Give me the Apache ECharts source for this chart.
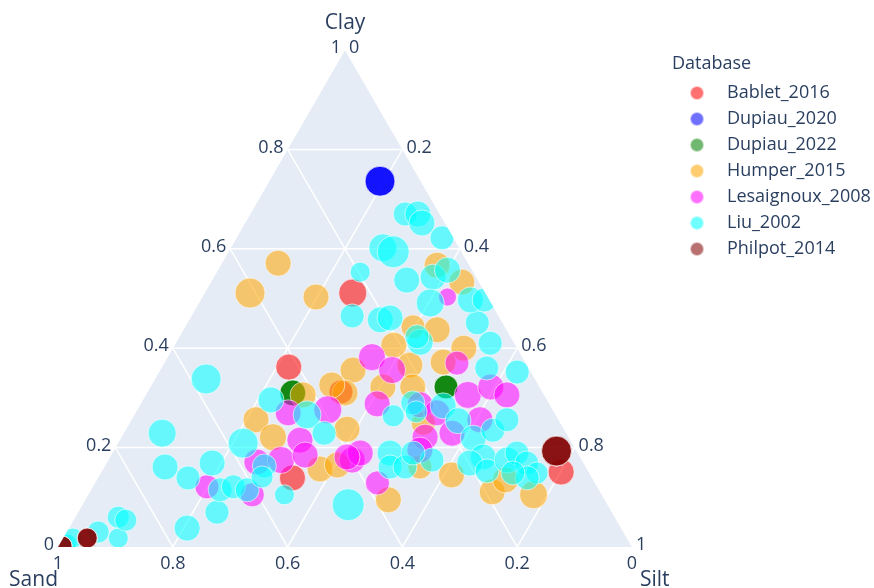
<!DOCTYPE html>
<html><head><meta charset="utf-8">
<script src="https://cdn.jsdelivr.net/npm/echarts@6/dist/echarts.min.js"></script>
<style>html,body{margin:0;padding:0;background:#fff}#c{width:874px;height:588px}</style>
</head><body><div id="c"></div>
<script>
// ---- data: each point is [clay %, silt %]; sand % = 100 - clay - silt ----
const seriesNames = ['Bablet_2016','Dupiau_2020','Dupiau_2022','Humper_2015','Lesaignoux_2008','Liu_2002','Philpot_2014'];

const bablet2016 = [[51.1,25.8],[36.2,22.1],[31.2,33.7],[13.9,33.9],[15.1,80.1]];
const bablet2016Size = [28,26,24,26,26];

const dupiau2020 = [[73.6,19.3],[73.6,19.3],[73.6,19.3]];
const dupiau2020Size = [30,30,30];

const dupiau2022 = [[31.0,25.4],[31.0,25.4],[31.0,25.4],[32.2,51.5],[32.2,51.5],[32.2,51.5]];
const dupiau2022Size = [26,26,26,24,24,24];

const humper2015 = [[57.1,9.8],[51.1,7.9],[50.3,19.8],[56.7,37.7],[53.3,43.7],[44.3,39.7],[43.7,44.2],[40.6,38.2],
  [40.0,50.7],[35.6,33.6],[36.6,43.0],[37.2,48.5],[32.2,45.7],[32.2,40.5],[31.0,34.5],[32.6,31.4],[30.6,27.4],
  [25.6,21.7],[22.1,26.4],[23.7,38.5],[15.7,37.8],[16.5,40.4],[9.5,52.8],[24.9,51.2],[16.1,55.0],[14.5,61.3],
  [11.1,70.1],[13.5,71.2],[10.5,77.6]];
const humper2015Size = [26,30,26,26,26,24,26,26,26,26,26,26,26,26,26,26,26,26,27,26,26,26,26,24,24,26,26,26,28];

const lesaignoux2008 = [[12.1,19.9],[10.5,28.6],[17.1,26.1],[17.5,30.1],[27.0,26.6],[21.5,31.4],[18.5,33.8],[27.6,33.2],
  [17.5,42.5],[18.9,43.2],[12.9,49.2],[38.2,35.6],[35.6,40.4],[28.8,41.2],[28.6,48.8],[27.0,52.5],[37.0,51.0],
  [30.6,56.1],[32.2,59.3],[30.6,62.9],[22.9,57.2],[25.6,60.7],[22.1,52.9],[19.5,53.3],[18.1,41.3],[50.3,42.7]];
const lesaignoux2008Size = [24,24,26,27,26,26,26,28,26,26,24,27,27,26,26,26,24,27,26,26,26,26,26,26,26,18];

const liu2002 = [[0.8,1.3],[1.8,1.7],[3.0,5.5],[1.8,9.6],[6.0,7.5],[5.4,9.1],[3.8,20.6],[7.0,24.2],[16.1,10.6],
  [22.9,6.7],[13.9,15.7],[16.9,18.4],[33.8,8.9],[11.5,22.5],[12.1,24.5],[11.5,27.2],[20.9,21.8],[29.6,22.3],
  [16.3,27.8],[14.1,28.5],[10.5,34.2],[26.6,30.1],[22.9,34.9],[8.5,46.3],[18.9,48.4],[16.1,49.8],[26.4,45.2],
  [29.0,47.3],[16.1,52.4],[17.5,56.4],[28.4,52.9],[27.2,48.8],[25.4,57.0],[21.9,61.4],[18.1,65.0],[16.9,63.3],
  [15.3,67.1],[17.5,69.5],[18.9,70.5],[16.9,73.2],[14.9,76.0],[13.9,74.8],[14.9,71.8],[23.5,64.0],[25.6,65.4],
  [41.0,54.8],[36.0,56.7],[35.2,62.4],[45.1,50.5],[41.2,42.5],[46.5,28.0],[45.7,33.3],[46.1,34.8],[55.3,25.0],
  [60.2,26.5],[59.4,28.7],[67.0,27.0],[67.0,29.2],[65.2,30.8],[62.2,35.8],[53.7,33.9],[54.3,38.2],[55.7,40.0],
  [49.1,40.3],[49.7,47.0],[49.7,49.4],[42.3,41.4],[18.9,52.4]];
const liu2002Size = [18,20,22,20,22,22,26,24,26,28,24,26,30,24,24,24,30,26,24,22,20,28,24,32,26,24,22,
  24,24,24,26,22,26,26,26,26,24,26,24,24,22,24,24,24,24,24,24,24,24,26,24,26,26,20,28,32,24,26,26,24,26,
  26,26,28,26,24,24,24];

const philpot2014 = [[19.3,77.2],[19.3,77.2],[19.3,77.2],[1.8,4.2],[1.8,4.2],[1.8,4.2],[0.2,0.6],[0.2,0.6],[0.2,0.6]];
const philpot2014Size = [30,30,30,20,20,20,20,20,20];

const tickValues = [0, 0.2, 0.4, 0.6, 0.8, 1];
const tickLabels = ['0','0.2','0.4','0.6','0.8','1'];
const gridValues = [0.2, 0.4, 0.6, 0.8];
const axisTitles = ['Clay','Sand','Silt'];
const legendTitle = 'Database';

// ---- styling ----
const colors = ['rgba(255,0,0,0.7)','rgba(0,0,255,0.7)','rgba(0,128,0,0.7)','rgba(255,165,0,0.7)',
  'rgba(255,0,255,0.7)','rgba(0,255,255,0.7)','rgba(128,0,0,0.7)'];
const allPts = [bablet2016,dupiau2020,dupiau2022,humper2015,lesaignoux2008,liu2002,philpot2014];
const allSizes = [bablet2016Size,dupiau2020Size,dupiau2022Size,humper2015Size,lesaignoux2008Size,liu2002Size,philpot2014Size];
const TXT = '#2a3f5f';
const FONT = '"Open Sans", Verdana, Arial, sans-serif';
const SQ = Math.sqrt(3) / 2;
// ternary (clay, silt fractions) -> cartesian
function tern(clay, silt) { return [silt + clay / 2, clay * SQ]; }

const chart = echarts.init(document.getElementById('c'), null, {renderer: 'canvas'});

const scatterSeries = seriesNames.map((name, i) => ({
  type: 'scatter', name, z: 2, clip: false, animation: false,
  data: allPts[i].map((p, j) => ({value: tern(p[0] / 100, p[1] / 100), symbolSize: allSizes[i][j]})),
  itemStyle: {color: colors[i], borderColor: 'rgba(255,255,255,0.75)', borderWidth: 1},
  emphasis: {disabled: true}
}));

function txt(x, y, text, align, vAlign, size) {
  return {type: 'text', x, y, style: {text, fill: TXT, font: 'normal ' + size + 'px ' + FONT,
    align, verticalAlign: vAlign, textAlign: align, textVerticalAlign: vAlign}};
}

const background = {
  type: 'custom', z: 1, silent: true, animation: false, data: [0],
  renderItem: (params, api) => {
    const P = (c, s) => api.coord(tern(c, s));
    const ch = [{type: 'polygon', shape: {points: [P(0, 0), P(1, 0), P(0, 1)]}, style: {fill: '#E5ECF6'}}];
    const ln = (a, b) => ({type: 'line', shape: {x1: a[0], y1: a[1], x2: b[0], y2: b[1]},
      style: {stroke: '#ffffff', lineWidth: 1.5}});
    gridValues.forEach(v => {
      ch.push(ln(P(v, 0), P(v, 1 - v)));      // clay = v
      ch.push(ln(P(0, v), P(1 - v, v)));      // silt = v
      ch.push(ln(P(0, 1 - v), P(1 - v, 0)));  // sand = v
    });
    return {type: 'group', children: ch};
  }
};

const overlay = {
  type: 'custom', z: 5, silent: true, animation: false, data: [0],
  renderItem: (params, api) => {
    const Q = (x, y) => api.coord([x, y]);
    const H = SQ;
    const ch = [];
    const masks = [
      [Q(0, 0), Q(0.5, H), Q(0.5, H + 0.3), Q(-0.2, H + 0.3), Q(-0.2, 0)],
      [Q(1, 0), Q(0.5, H), Q(0.5, H + 0.3), Q(1.05, H + 0.3), Q(1.05, 0)],
      [Q(-0.2, 0), Q(1.05, 0), Q(1.05, -0.2), Q(-0.2, -0.2)]
    ];
    masks.forEach(m => ch.push({type: 'polygon', shape: {points: m}, style: {fill: '#ffffff'}}));
    const P = (c, s) => api.coord(tern(c, s));
    tickValues.forEach((v, i) => {
      const a = P(v, 0);            // clay axis, left edge
      ch.push(txt(a[0] - 4, a[1] - 2, tickLabels[i], 'right', 'middle', 18));
      const c = P(1 - v, v);        // silt axis, right edge
      ch.push(txt(c[0] + 4, c[1] - 2, tickLabels[i], 'left', 'middle', 18));
      const b = P(0, 1 - v);        // sand axis, bottom edge
      ch.push(txt(b[0], b[1] + 8, tickLabels[i], 'center', 'top', 18));
    });
    const top = P(1, 0), bl = P(0, 0), br = P(0, 1);
    ch.push(txt(top[0], top[1] - 27, axisTitles[0], 'center', 'middle', 21));
    ch.push(txt(bl[0], bl[1] + 33, axisTitles[1], 'right', 'middle', 21));
    ch.push(txt(br[0] + 8, br[1] + 33, axisTitles[2], 'left', 'middle', 21));
    return {type: 'group', children: ch};
  }
};

chart.setOption({
  animation: false,
  backgroundColor: '#ffffff',
  title: {text: legendTitle, left: 672, top: 55, padding: 0,
    textStyle: {fontSize: 18, fontWeight: 'normal', color: TXT, fontFamily: FONT}},
  legend: {orient: 'vertical', left: 689, top: 84, padding: 0, itemWidth: 50, itemHeight: 14, itemGap: 8,
    icon: 'circle', selectedMode: false, data: seriesNames,
    textStyle: {fontSize: 18, color: TXT, fontFamily: FONT}},
  grid: {left: 58, top: 50, width: 574, height: 497, containLabel: false},
  xAxis: {type: 'value', min: 0, max: 1, show: false},
  yAxis: {type: 'value', min: 0, max: SQ, show: false},
  series: [background, ...scatterSeries, overlay]
});
</script></body></html>
